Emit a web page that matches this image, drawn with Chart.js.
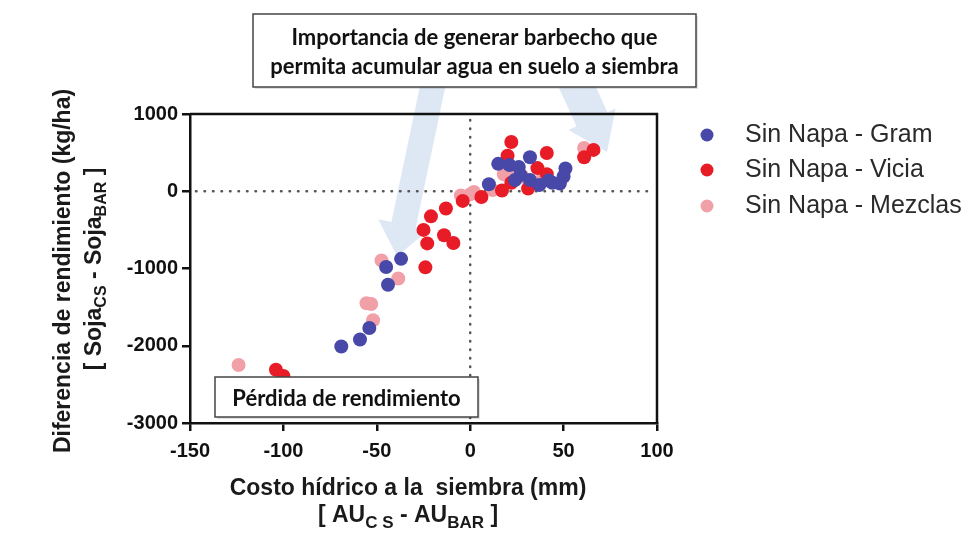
<!DOCTYPE html>
<html>
<head>
<meta charset="utf-8">
<script src="https://cdn.jsdelivr.net/npm/chart.js@4.4.1/dist/chart.umd.min.js"></script>
<style>
  html, body { margin: 0; padding: 0; background: #fff; }
  #chart { display: block; }
</style>
</head>
<body>
<canvas id="chart" width="970" height="533"></canvas>
<script>
// Values: [x = water cost (mm), y = yield difference (kg/ha)]
const gramPoints = [
  [-69, -2010], [-59, -1920], [-54, -1770], [-44, -1210], [-45, -980], [-37, -875],
  [10, 90], [15, 355], [21, 340], [26, 315], [32, 440], [27, 210], [32, 145],
  [24, 145], [37, 80], [42, 140], [48, 100], [51, 295], [50, 190], [44, 110]
];
const viciaPoints = [
  [-104, -2310], [-100, -2390], [-24, -985], [-25, -500], [-21, -325], [-13, -224],
  [-4, -125], [6, -74], [17, 10], [22, 110], [31, 35], [22, 638], [20, 460],
  [41, 495], [36, 300], [41, 220], [-23, -675], [-14, -570], [-9, -670], [61, 440], [66, 535]
];
const mezclasPoints = [
  [-124, -2250], [-47.5, -895], [-38.5, -1130], [-55.5, -1450], [-53, -1460], [-52, -1670],
  [-5, -55], [0, -40], [2, -10], [12, 15], [18, 220], [24, 270], [39, 185], [61, 560], [28, 190]
];
const seriesNames = ["Sin Napa - Gram", "Sin Napa - Vicia", "Sin Napa - Mezclas"];
const xTicks = [-150, -100, -50, 0, 50, 100];
const yTicks = [-3000, -2000, -1000, 0, 1000];

const COLORS = ["rgb(72, 72, 168)", "rgb(232, 28, 38)", "rgb(242, 160, 168)"];
const TICK_FONT = { family: "'Liberation Sans', Arial, sans-serif", size: 20, weight: "bold" };
const BOX_FONT = "bold 22px Lato, 'Open Sans', sans-serif";

const toXY = (pts) => pts.map(([x, y]) => ({ x, y }));

function drawArrow(ctx, x1, y1, x2, y2, shaftW, headW, headL) {
  const len = Math.hypot(x2 - x1, y2 - y1);
  const ux = (x2 - x1) / len, uy = (y2 - y1) / len;
  const px = -uy, py = ux;
  const bx = x2 - ux * headL, by = y2 - uy * headL;
  ctx.beginPath();
  ctx.moveTo(x1 + px * shaftW / 2, y1 + py * shaftW / 2);
  ctx.lineTo(bx + px * shaftW / 2, by + py * shaftW / 2);
  ctx.lineTo(bx + px * headW / 2, by + py * headW / 2);
  ctx.lineTo(x2, y2);
  ctx.lineTo(bx - px * headW / 2, by - py * headW / 2);
  ctx.lineTo(bx - px * shaftW / 2, by - py * shaftW / 2);
  ctx.lineTo(x1 - px * shaftW / 2, y1 - py * shaftW / 2);
  ctx.closePath();
  ctx.fill();
}

// text with subscripts: parts = [[text, isSub], ...], centred on (cx, cy)
function drawRich(ctx, parts, cx, cy, size, subSize) {
  const fontMain = `bold ${size}px 'Liberation Sans', Arial, sans-serif`;
  const fontSub = `bold ${subSize}px 'Liberation Sans', Arial, sans-serif`;
  let total = 0;
  parts.forEach(([t, sub]) => {
    ctx.font = sub ? fontSub : fontMain;
    total += ctx.measureText(t).width;
  });
  let x = cx - total / 2;
  ctx.textAlign = "left";
  ctx.textBaseline = "middle";
  parts.forEach(([t, sub]) => {
    ctx.font = sub ? fontSub : fontMain;
    ctx.fillText(t, x, sub ? cy + size * 0.3 : cy);
    x += ctx.measureText(t).width;
  });
}

function textBox(ctx, x, y, w, h, lines, lineGap) {
  ctx.save();
  ctx.fillStyle = "rgba(0,0,0,0.12)";
  ctx.fillRect(x + 2, y + 2, w, h);
  ctx.fillStyle = "#fff";
  ctx.fillRect(x, y, w, h);
  ctx.strokeStyle = "#444";
  ctx.lineWidth = 1.5;
  ctx.strokeRect(x, y, w, h);
  ctx.fillStyle = "#111";
  ctx.font = BOX_FONT;
  ctx.textAlign = "center";
  ctx.textBaseline = "middle";
  const startY = y + h / 2 + 2 - (lines.length - 1) * lineGap / 2;
  lines.forEach((l, i) => ctx.fillText(l, x + w / 2, startY + i * lineGap));
  ctx.restore();
}

const overlay = {
  id: "overlay",
  beforeDatasetsDraw(chart) {
    const { ctx, chartArea: a, scales: { x, y } } = chart;
    ctx.save();
    // pale guide arrows from the top note
    ctx.fillStyle = "rgba(200, 217, 238, 0.6)";
    drawArrow(ctx, 434, 80, 397, 256, 25, 52, 32);
    drawArrow(ctx, 574, 80, 607, 152, 34, 52, 36);
    // dotted zero lines
    ctx.strokeStyle = "#555";
    ctx.lineWidth = 2.5;
    ctx.lineCap = "round";
    ctx.setLineDash([0.5, 8]);
    const y0 = y.getPixelForValue(0), x0 = x.getPixelForValue(0);
    ctx.beginPath();
    ctx.moveTo(a.left + 6, y0); ctx.lineTo(a.right - 4, y0);
    ctx.moveTo(x0, a.top + 6); ctx.lineTo(x0, a.bottom - 4);
    ctx.stroke();
    ctx.setLineDash([]);
    // frame top and right
    ctx.strokeStyle = "#111";
    ctx.lineWidth = 2.5;
    ctx.lineCap = "butt";
    ctx.beginPath();
    ctx.moveTo(a.left, a.top); ctx.lineTo(a.right, a.top); ctx.lineTo(a.right, a.bottom);
    ctx.stroke();
    ctx.restore();
  },
  afterDraw(chart) {
    const { ctx } = chart;
    ctx.save();
    textBox(ctx, 253, 14, 443, 73, [
      "Importancia de generar barbecho que",
      "permita acumular agua en suelo a siembra"
    ], 29);
    textBox(ctx, 215, 377, 263, 40, ["Pérdida de rendimiento"], 0);

    // axis titles
    ctx.fillStyle = "#1a1a1a";
    drawRich(ctx, [["Costo hídrico a la  siembra (mm)", false]], 408, 489, 23, 16);
    drawRich(ctx, [["[ AU", false], ["C S", true], [" - AU", false], ["BAR", true], [" ]", false]], 408, 516, 23, 17);
    ctx.save();
    ctx.translate(64, 271);
    ctx.rotate(-Math.PI / 2);
    drawRich(ctx, [["Diferencia de rendimiento (kg/ha)", false]], 0, 0, 23, 16);
    ctx.restore();
    ctx.save();
    ctx.translate(95, 269);
    ctx.rotate(-Math.PI / 2);
    drawRich(ctx, [["[ Soja", false], ["CS", true], [" - Soja", false], ["BAR", true], [" ]", false]], 0, 0, 23, 16);
    ctx.restore();

    // legend
    const rows = [135, 170, 206];
    seriesNames.forEach((name, i) => {
      ctx.fillStyle = COLORS[i];
      ctx.beginPath();
      ctx.arc(707, rows[i], 6.5, 0, Math.PI * 2);
      ctx.fill();
      ctx.fillStyle = "#2a2a2a";
      ctx.font = "25px 'Liberation Sans', Arial, sans-serif";
      ctx.textAlign = "left";
      ctx.textBaseline = "middle";
      ctx.fillText(name, 745, rows[i]);
    });
    ctx.restore();
  }
};

const axisCommon = {
  type: "linear",
  border: { color: "#111", width: 2.5 },
  grid: { drawOnChartArea: false, drawTicks: true, tickLength: 8, color: "#111", lineWidth: 2.5 },
  ticks: { color: "#111", font: TICK_FONT, callback: (v) => String(v) }
};

new Chart(document.getElementById("chart"), {
  type: "scatter",
  data: {
    datasets: [gramPoints, viciaPoints, mezclasPoints].map((pts, i) => ({
      label: seriesNames[i],
      data: toXY(pts),
      backgroundColor: COLORS[i],
      borderWidth: 0,
      pointRadius: 7,
      pointHoverRadius: 7
    }))
  },
  plugins: [overlay],
  options: {
    responsive: false,
    animation: false,
    layout: { padding: { top: 114, right: 313, left: 0, bottom: 0 } },
    plugins: { legend: { display: false }, tooltip: { enabled: false } },
    scales: {
      x: {
        ...axisCommon,
        min: xTicks[0],
        max: xTicks[xTicks.length - 1],
        ticks: { ...axisCommon.ticks, stepSize: xTicks[1] - xTicks[0], padding: 8, maxRotation: 0 },
        afterFit: (s) => { s.height = 110; }
      },
      y: {
        ...axisCommon,
        min: yTicks[0],
        max: yTicks[yTicks.length - 1],
        ticks: { ...axisCommon.ticks, stepSize: yTicks[1] - yTicks[0], padding: 4 },
        afterFit: (s) => { s.width = 190; }
      }
    }
  }
});
</script>
</body>
</html>
